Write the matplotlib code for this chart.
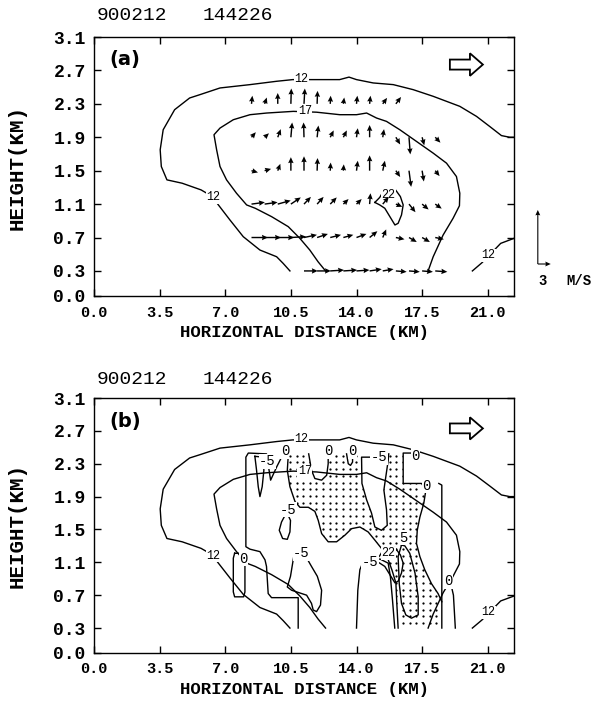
import numpy as np
import matplotlib
matplotlib.use("Agg")
import matplotlib.pyplot as plt
from matplotlib.patches import Polygon, FancyArrow

# ---------------- data ----------------
x_ticks = [0.0, 3.5, 7.0, 10.5, 14.0, 17.5, 21.0]
y_ticks = [0.0, 0.3, 0.7, 1.1, 1.5, 1.9, 2.3, 2.7, 3.1]
date_str = "900212"
time_str = "144226"

# reflectivity contours (x km, z km)
c12_x = [10.45, 10.09, 9.74, 8.85, 7.96, 7.25, 6.60, 6.32, 5.71, 4.70, 3.89, 3.59, 3.53, 3.69,
         4.30, 5.10, 5.65, 6.72, 8.32, 9.74, 10.60, 11.50, 12.30, 13.10, 13.60, 14.00, 14.89,
         15.96, 17.02, 18.09, 18.80, 19.51, 20.40, 21.10, 21.73, 22.17, 22.40]
c12_z = [0.30, 0.39, 0.47, 0.55, 0.71, 0.91, 1.10, 1.19, 1.27, 1.35, 1.39, 1.55, 1.75, 1.99,
         2.23, 2.37, 2.41, 2.49, 2.53, 2.57, 2.59, 2.59, 2.59, 2.59, 2.62, 2.59, 2.55,
         2.53, 2.47, 2.39, 2.33, 2.27, 2.15, 2.03, 1.92, 1.90, 1.90]
c12b_x = [20.18, 20.70, 21.09, 21.69, 22.40]
c12b_z = [0.30, 0.40, 0.49, 0.63, 0.69]
c17_x = [12.35, 11.95, 11.51, 10.98, 10.36, 9.47, 8.60, 8.14, 7.60, 7.07, 6.72, 6.54, 6.40,
         6.72, 7.43, 8.32, 9.21, 10.63, 11.87, 13.11, 14.00, 14.54, 15.07, 15.60, 16.31,
         17.20, 18.09, 18.80, 19.33, 19.51, 19.49, 19.15, 18.62, 18.09, 17.82]
c17_z = [0.30, 0.41, 0.55, 0.69, 0.83, 0.95, 1.05, 1.09, 1.23, 1.39, 1.55, 1.75, 1.93,
         2.01, 2.11, 2.17, 2.19, 2.21, 2.20, 2.17, 2.17, 2.19, 2.13, 2.09, 1.99,
         1.85, 1.71, 1.59, 1.43, 1.23, 1.08, 0.93, 0.73, 0.47, 0.30]
c22_x = [14.98, 15.24, 15.42, 16.05, 16.34, 16.49, 16.40, 16.22, 16.05, 15.78, 15.51, 15.24, 14.98]
c22_z = [1.12, 1.18, 1.25, 1.28, 1.19, 1.09, 0.97, 0.87, 0.85, 0.95, 1.05, 1.09, 1.12]

# wind vectors: rows at heights, u (m/s, horizontal) and w (m/s, vertical)
row_z = [2.3, 1.9, 1.5, 1.1, 0.7, 0.3]
xs_23 = [8.4, 9.1, 9.8, 10.5, 11.2, 11.9, 12.6, 13.3, 14.0, 14.7, 15.4, 16.1]
xs_mid = [8.4, 9.1, 9.8, 10.5, 11.2, 11.9, 12.6, 13.3, 14.0, 14.7, 15.4, 16.1, 16.8, 17.5, 18.2]
xs_03 = [11.2, 11.9, 12.6, 13.3, 14.0, 14.7, 15.4, 16.1, 16.8, 17.5, 18.2]
u_23 = [0.2, 0.5, 0.0, 0.1, 0.2, 0.1, 0.1, 0.2, 0.2, 0.2, 1.0, 1.2]
w_23 = [0.45, 0.35, 0.60, 0.85, 0.85, 0.72, 0.45, 0.35, 0.45, 0.45, 0.33, 0.38]
u_19 = [1.0, 1.0, 0.7, 0.3, -0.1, 0.3, 0.8, 0.8, 0.3, 0.0, 0.3, 1.0, 0.3, 0.5, 1.2]
w_19 = [0.28, 0.22, 0.45, 0.82, 0.82, 0.65, 0.38, 0.38, 0.50, 0.68, 0.45, -0.40, -0.95, -0.45, -0.30]
u_15 = [1.5, 1.5, 0.6, 0.0, 0.0, 0.1, 0.1, 0.1, 0.3, 0.0, 0.5, 1.0, 0.5, 0.4, 1.0]
w_15 = [-0.10, 0.10, 0.38, 0.75, 0.80, 0.70, 0.45, 0.35, 0.55, 0.85, 0.55, -0.35, -0.90, -0.60, -0.30]
u_11 = [3.1, 3.0, 3.0, 2.3, 1.6, 1.5, 1.5, 1.2, 1.2, 0.2, 1.4, 1.5, 1.5, 1.5, 1.5]
w_11 = [0.10, 0.10, 0.20, 0.37, 0.40, 0.40, 0.37, 0.28, 0.28, 0.60, 0.40, -0.15, -0.45, -0.30, -0.25]
u_07 = [3.8, 3.8, 3.8, 3.5, 3.0, 2.5, 2.5, 2.3, 2.3, 1.8, 0.8, 2.0, 1.8, 1.8, 2.0]
w_07 = [0.00, 0.00, 0.00, 0.05, 0.15, 0.20, 0.15, 0.15, 0.20, 0.35, 0.45, -0.10, -0.25, -0.25, -0.10]
u_03 = [3.2, 3.2, 3.2, 3.2, 3.0, 2.8, 2.5, 2.5, 2.5, 2.5, 2.8]
w_03 = [0.00, 0.00, 0.05, 0.05, 0.05, 0.10, 0.10, -0.05, -0.05, -0.05, -0.05]
ref_speed = 3.0  # m/s, scale arrows

# vertical-velocity contours (panel b)
stip_x = [10.36, 16.49, 16.49, 17.47, 17.70, 17.59, 17.38, 17.24, 17.20, 17.38, 17.64, 18.00,
          18.35, 18.55, 18.55, 16.22, 16.15, 16.10, 15.90, 15.55, 15.33, 14.98, 14.62, 14.18,
          13.74, 13.38, 12.94, 12.49, 12.14, 11.96, 11.78, 11.43, 10.98, 10.72, 10.45, 10.31]
stip_z = [2.42, 2.42, 2.06, 2.06, 1.98, 1.82, 1.65, 1.49, 1.33, 1.17, 1.01, 0.84,
          0.72, 0.60, 0.30, 0.30, 0.60, 0.85, 1.00, 1.22, 1.27, 1.37, 1.47, 1.53,
          1.51, 1.43, 1.35, 1.35, 1.45, 1.61, 1.72, 1.77, 1.77, 1.84, 2.02, 2.22]
w0_left_x = [10.36, 10.31, 10.45, 10.72, 10.98, 11.43, 11.78, 11.96, 12.14, 12.49, 12.94, 13.38,
             13.74, 14.18, 14.62, 14.98, 15.33, 15.55, 15.90, 16.10, 16.15, 16.22]
w0_left_z = [2.40, 2.22, 2.02, 1.84, 1.77, 1.77, 1.72, 1.61, 1.45, 1.35, 1.35, 1.43,
             1.51, 1.53, 1.47, 1.37, 1.27, 1.22, 1.00, 0.85, 0.60, 0.30]
w0_right_x = [16.95, 16.49, 16.49, 17.47, 17.70, 17.59, 17.38, 17.24, 17.20, 17.38, 17.64, 18.00, 18.35, 18.55]
w0_right_z = [2.43, 2.43, 2.06, 2.06, 1.98, 1.82, 1.65, 1.49, 1.33, 1.17, 1.01, 0.84, 0.72, 0.62]
w0_vert_x = [18.39, 18.55, 18.55]
w0_vert_z = [2.06, 2.04, 0.30]
w0_u1_x = [11.45, 11.60, 11.78, 12.14, 12.41, 12.49, 12.49]
w0_u1_z = [2.42, 2.22, 2.12, 2.10, 2.16, 2.30, 2.40]
w0_u2_x = [13.47, 13.56, 13.68, 13.79, 13.79]
w0_u2_z = [2.42, 2.30, 2.28, 2.32, 2.40]
wm5_top_x = [14.98, 14.27, 14.29, 14.54, 14.80, 14.98, 15.33, 15.64, 15.60, 15.46, 15.69, 15.72]
wm5_top_z = [2.38, 2.38, 2.06, 1.86, 1.70, 1.53, 1.49, 1.55, 1.74, 1.98, 2.34, 2.42]
w5_x = [16.40, 16.22, 16.28, 16.40, 16.63, 16.93, 17.29, 17.29, 17.12, 16.84, 16.58, 16.40]
w5_z = [1.31, 1.17, 0.84, 0.60, 0.46, 0.42, 0.46, 0.68, 0.97, 1.21, 1.30, 1.31]
wm5_arch_l_x = [14.00, 14.07, 14.18, 14.36, 14.50]
wm5_arch_l_z = [0.30, 0.76, 1.01, 1.11, 1.12]
wm5_arch_r_x = [14.95, 15.25, 15.69, 15.81, 15.92, 16.04]
wm5_arch_r_z = [1.13, 1.14, 1.09, 0.92, 0.64, 0.30]
wm5_loop_x = [10.80, 10.66, 10.48, 10.31, 10.54, 11.34, 11.60, 11.69, 11.87, 12.08, 12.14, 11.91, 11.60, 11.30]
wm5_loop_z = [1.20, 1.18, 0.93, 0.80, 0.76, 0.70, 0.60, 0.52, 0.50, 0.58, 0.76, 0.93, 1.05, 1.17]
wm5_small_x = [10.23, 10.00, 9.88, 10.06, 10.31, 10.45, 10.48, 10.36, 10.23]
wm5_small_z = [1.69, 1.59, 1.49, 1.39, 1.38, 1.47, 1.61, 1.67, 1.69]
w0_a_x = [10.89, 10.89, 9.47, 9.29, 9.20, 9.12, 8.85, 8.32, 8.10, 8.10, 8.23, 9.20, 9.42, 9.74, 10.05]
w0_a_z = [0.30, 0.67, 0.67, 0.72, 1.05, 1.13, 1.23, 1.26, 1.29, 2.38, 2.43, 2.42, 2.10, 2.26, 2.40]
wm5_tongue_x = [8.58, 8.67, 8.76, 8.85, 8.97, 9.06, 9.02, 8.58]
wm5_tongue_z = [2.39, 2.22, 2.02, 1.90, 2.02, 2.22, 2.38, 2.39]
w0_box_x = [7.50, 7.43, 7.43, 7.50, 7.98, 8.05, 8.05, 7.98, 7.50]
w0_box_z = [1.21, 1.15, 0.74, 0.68, 0.68, 0.74, 1.15, 1.21, 1.21]
w0_r_x = [19.05, 19.17, 19.27]
w0_r_z = [0.82, 0.70, 0.30]

# contour labels: (x, z, text)
dbz_labels = [(11.07, 2.60, "12"), (11.25, 2.21, "17"), (6.38, 1.18, "12"),
              (21.05, 0.49, "12"), (15.69, 1.21, "22")]
w_labels = [(10.18, 2.45, "0"), (12.49, 2.45, "0"), (13.79, 2.45, "0"), (17.16, 2.40, "0"),
            (17.72, 2.03, "0"), (7.96, 1.14, "0"), (18.90, 0.87, "0"),
            (9.25, 2.33, "-5"), (15.20, 2.38, "-5"), (10.36, 1.74, "-5"),
            (11.07, 1.21, "-5"), (14.71, 1.11, "-5"), (16.49, 1.40, "5")]

# ---------------- plotting ----------------
W, H = 595, 704
fig = plt.figure(figsize=(W / 100, H / 100), dpi=100)
MONO = "Liberation Mono"
LW = 1.0

ax_a = fig.add_axes([94 / W, 1 - 296 / H, 420 / W, 259 / H])
ax_b = fig.add_axes([94 / W, 1 - 652.7 / H, 420 / W, 254.7 / H])


def style_axes(ax):
    ax.set_xlim(0, 22.4)
    ax.set_ylim(0, 3.1)
    ax.set_xticks(x_ticks)
    ax.set_yticks(y_ticks)
    ax.set_xticklabels([f"{v:.1f}" for v in x_ticks], fontfamily=MONO, fontweight="bold", fontsize=11)
    ax.set_yticklabels([f"{v:.1f}" for v in y_ticks], fontfamily=MONO, fontweight="bold", fontsize=13)
    ax.tick_params(direction="in", length=5, width=1, top=True, right=True)
    ax.tick_params(axis="x", pad=7)
    ax.tick_params(axis="y", pad=6)
    for s in ax.spines.values():
        s.set_linewidth(1.0)
    ax.set_xlabel("HORIZONTAL DISTANCE (KM)", fontfamily=MONO, fontweight="bold", fontsize=12.5, labelpad=4)


def line(ax, xs, zs):
    ax.plot(xs, zs, color="black", lw=LW, zorder=3, solid_joinstyle="round")


def label(ax, x, z, s, size):
    ax.text(x, z, s, fontsize=size, fontfamily=MONO, ha="center", va="center", zorder=4,
            bbox=dict(facecolor="white", edgecolor="none", pad=0.3))


def dbz(ax):
    line(ax, c12_x, c12_z)
    line(ax, c12b_x, c12b_z)
    line(ax, c17_x, c17_z)
    line(ax, c22_x, c22_z)
    for x, z, s in dbz_labels:
        label(ax, x, z, s, 8.5)


def motion_arrow(ax, z):
    ax.add_patch(FancyArrow(18.98, z, 1.76, 0, width=0.12, head_width=0.27, head_length=0.69,
                            length_includes_head=True, facecolor="white", edgecolor="black",
                            lw=1.3, zorder=5))


for ax in (ax_a, ax_b):
    style_axes(ax)
    dbz(ax)

# panel a
xs_rows = [xs_23, xs_mid, xs_mid, xs_mid, xs_mid, xs_03]
u_rows = [u_23, u_19, u_15, u_11, u_07, u_03]
w_rows = [w_23, w_19, w_15, w_11, w_07, w_03]
XS = 0.69 / ref_speed   # km of plot per m/s horizontally
ZS = 0.647 / ref_speed  # km of plot per m/s vertically
for z, xs, us, ws in zip(row_z, xs_rows, u_rows, w_rows):
    xs = np.asarray(xs)
    ax_a.quiver(xs, np.full(len(xs), z), np.asarray(us) * XS, np.asarray(ws) * ZS,
                angles="xy", scale_units="xy", scale=1, width=0.0034, headwidth=3.8,
                headlength=4.2, headaxislength=3.8, color="black", zorder=4)
q = ax_a.quiver([23.67, 23.67], [0.383, 0.383], [ref_speed * XS, 0], [0, ref_speed * ZS],
                angles="xy", scale_units="xy", scale=1, width=0.0026, headwidth=4.5,
                headlength=5, headaxislength=4.5, color="black")
q.set_clip_on(False)
ax_a.text(23.91, 0.18, "3", fontfamily=MONO, fontweight="bold", fontsize=10, ha="center",
          va="center", clip_on=False)
ax_a.text(25.2, 0.18, "M/S", fontfamily=MONO, fontweight="bold", fontsize=10, ha="left",
          va="center", clip_on=False)
ax_a.text(0.8, 2.83, "(a)", fontfamily="DejaVu Sans", fontweight="bold", fontsize=14, va="center")
motion_arrow(ax_a, 2.77)

# panel b
poly = Polygon(np.column_stack([stip_x, stip_z]), closed=True, facecolor="none", edgecolor="none")
ax_b.add_patch(poly)
gx, gz = np.meshgrid(np.arange(9.735, 18.7, 0.355), np.arange(0.36, 2.43, 0.0815))
sc = ax_b.scatter(gx.ravel(), gz.ravel(), s=2.6, c="black", linewidths=0, zorder=1)
sc.set_clip_path(poly)
for hx, hz in [(w0_u1_x + [11.45], w0_u1_z + [2.45]), (w0_u2_x, w0_u2_z),
               (wm5_top_x[1:] + [14.27], wm5_top_z[1:] + [2.45])]:
    ax_b.add_patch(Polygon(np.column_stack([hx, hz]), closed=True, facecolor="white",
                           edgecolor="none", zorder=1.5))
for xs, zs in [(w0_left_x, w0_left_z), (w0_right_x, w0_right_z), (w0_vert_x, w0_vert_z),
               (w0_u1_x, w0_u1_z), (w0_u2_x, w0_u2_z), (wm5_top_x, wm5_top_z), (w5_x, w5_z),
               (wm5_arch_l_x, wm5_arch_l_z), (wm5_arch_r_x, wm5_arch_r_z),
               (wm5_loop_x, wm5_loop_z), (wm5_small_x, wm5_small_z), (w0_a_x, w0_a_z),
               (wm5_tongue_x, wm5_tongue_z), (w0_box_x, w0_box_z), (w0_r_x, w0_r_z)]:
    line(ax_b, xs, zs)
for x, z, s in w_labels:
    label(ax_b, x, z, s, 10)
ax_b.text(0.8, 2.81, "(b)", fontfamily="DejaVu Sans", fontweight="bold", fontsize=14, va="center")
motion_arrow(ax_b, 2.73)

# headers and y labels
for yc, yl in [(16, 167), (379, 525.5)]:
    fig.text(97 / W, 1 - yc / H, date_str, fontfamily=MONO, fontsize=14, va="center")
    fig.text(203 / W, 1 - yc / H, time_str, fontfamily=MONO, fontsize=14, va="center")
    fig.text(17 / W, 1 - yl / H, "HEIGHT(KM)", fontfamily=MONO, fontweight="bold", fontsize=15,
             rotation=90, ha="center", va="center")

fig.savefig("out.png", dpi=100)
